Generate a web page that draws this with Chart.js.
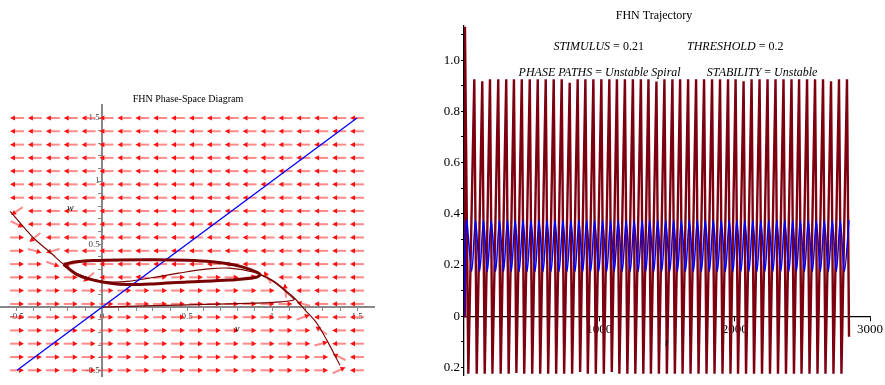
<!DOCTYPE html>
<html lang="en">
<head>
<meta charset="UTF-8">
<title>FHN Phase-Space and Trajectory</title>
<script src="https://cdn.jsdelivr.net/npm/chart.js"></script>
<style>
    body {
        margin: 0;
        background: #fff;
        width: 885px;
        height: 385px;
        overflow: hidden;
        position: relative;
    }
    #phase { position: absolute; left: 0; top: 0; }
    #traj { position: absolute; left: 440px; top: 0; }
</style>
</head>
<body>
<canvas id="phase" width="440" height="385"></canvas>
<canvas id="traj" width="445" height="385"></canvas>
<script>
    // ---------- phase-space data (v, w) ----------
    const nullV = [-0.54, -0.45, -0.4, -0.3, -0.226, -0.15, -0.05, 0.05, 0.15, 0.3, 0.45, 0.6, 0.75, 0.9, 1.0, 1.07, 1.13, 1.2, 1.26, 1.32, 1.4];
    const nullW = [0.76, 0.62, 0.545, 0.43, 0.34, 0.27, 0.22, 0.2, 0.205, 0.235, 0.27, 0.3, 0.31, 0.275, 0.215, 0.145, 0.075, -0.03, -0.12, -0.255, -0.46];

    const diagV = [-0.5, 1.5];
    const diagW = [-0.5, 1.5];

    const startV = [0, 0.3, 0.6, 0.9, 1.05, 1.13, 1.1, 1.05, 1.0, 0.93];
    const startW = [0, 0.012, 0.022, 0.032, 0.042, 0.06, 0.1, 0.16, 0.21, 0.26];

    const cycleV = [-0.226, -0.15, -0.05, 0.1, 0.3, 0.5, 0.65, 0.78, 0.87, 0.93, 0.9, 0.75, 0.5, 0.3, 0.15, 0.05, -0.05, -0.15, -0.226];
    const cycleW = [0.34, 0.36, 0.37, 0.375, 0.376, 0.372, 0.36, 0.335, 0.3, 0.26, 0.235, 0.215, 0.2, 0.185, 0.18, 0.19, 0.215, 0.26, 0.34];

    // direction field grid
    const fieldV = [-0.5, -0.395, -0.289, -0.184, -0.079, 0.026, 0.132, 0.237, 0.342, 0.447, 0.553, 0.658, 0.763, 0.868, 0.974, 1.079, 1.184, 1.289, 1.395, 1.5];
    const fieldW = [1.5, 1.395, 1.289, 1.184, 1.079, 0.974, 0.868, 0.763, 0.658, 0.553, 0.447, 0.342, 0.237, 0.132, 0.026, -0.079, -0.184, -0.289, -0.395, -0.5];
    const fieldDir = [
        'LLLLLLLLLLLLLLLLLLLL',
        'LLLLLLLLLLLLLLLLLLLL',
        'LLLLLLLLLLLLLLLLLLLL',
        'LLLLLLLLLLLLLLLLLLLL',
        'LLLLLLLLLLLLLLLLLLLL',
        'LLLLLLLLLLLLLLLLLLLL',
        'LLLLLLLLLLLLLLLLLLLL',
        'LLLLLLLLLLLLLLLLLLLL',
        'RLLLLLLLLLLLLLLLLLLL',
        'RLLLLLLLLLLLLLLLLLLL',
        'RRLLLLLLLLLLLLLLLLLL',
        'RRRLLLLLLLLLLLLLLLLL',
        'RRRRLLLLRRRRRRLLLLLL',
        'RRRRRRRRRRRRRRRLLLLL',
        'RRRRRRRRRRRRRRRRLLLL',
        'RRRRRRRRRRRRRRRRRLLL',
        'RRRRRRRRRRRRRRRRRLLL',
        'RRRRRRRRRRRRRRRRRRLL',
        'RRRRRRRRRRRRRRRRRRLL',
        'RRRRRRRRRRRRRRRRRRRL'
    ];
    // [column, row, angle in degrees on screen] for arrows that lean near the nullcline
    const fieldTilt = [
        [0, 7, 146], [0, 8, 25], [1, 9, 140], [1, 10, 15], [2, 10, 165], [2, 11, 20],
        [3, 11, 168], [4, 12, 140], [7, 12, 185], [8, 12, 355], [13, 12, 350], [14, 12, 240],
        [15, 13, 265], [16, 14, 195], [16, 15, 340], [17, 16, 215], [17, 17, 345],
        [18, 18, 205], [18, 19, 335]
    ];

    const phaseTicks = [-0.5, -0.4, -0.3, -0.2, -0.1, 0, 0.1, 0.2, 0.3, 0.4, 0.5, 0.6, 0.7, 0.8, 0.9, 1, 1.1, 1.2, 1.3, 1.4, 1.5];

    // ---------- trajectory data (t, v) and (t, w) ----------
    const spikeT = [7, 76, 135, 192, 253, 312, 369, 427, 486, 545, 604, 663, 722, 781, 840, 897, 956, 1015, 1074, 1130,
        1189, 1248, 1307, 1363, 1422, 1481, 1540, 1597, 1656, 1715, 1774, 1833, 1892, 1951, 2007, 2066, 2125, 2184, 2243, 2302,
        2361, 2420, 2476, 2535, 2594, 2653, 2712, 2771, 2830];
    const spikeV = [1.13, 0.925, 0.918, 0.925, 0.925, 0.925, 0.925, 0.925, 0.925, 0.925, 0.925, 0.925, 0.925, 0.912, 0.925, 0.925, 0.925, 0.925, 0.925, 0.925,
        0.925, 0.925, 0.925, 0.925, 0.917, 0.925, 0.925, 0.925, 0.925, 0.925, 0.925, 0.925, 0.925, 0.925, 0.925, 0.918, 0.925, 0.925, 0.925, 0.925,
        0.925, 0.925, 0.925, 0.925, 0.925, 0.925, 0.918, 0.925, 0.925];
    const dipT = [32, 94, 153, 210, 271, 330, 387, 445, 504, 563, 622, 681, 740, 799, 858, 915, 974, 1033, 1092, 1148,
        1207, 1266, 1325, 1381, 1440, 1499, 1558, 1615, 1674, 1733, 1792, 1851, 1910, 1969, 2025, 2084, 2143, 2202, 2261, 2320,
        2379, 2438, 2494, 2553, 2612, 2671, 2730, 2789];
    const dipV = [-0.225, -0.225, -0.225, -0.225, -0.225, -0.225, -0.222, -0.225, -0.225, -0.225, -0.225, -0.225, -0.225, -0.225, -0.218, -0.225, -0.225, -0.225, -0.218, -0.225,
        -0.225, -0.225, -0.225, -0.225, -0.225, -0.225, -0.225, -0.225, -0.225, -0.225, -0.225, -0.225, -0.225, -0.225, -0.225, -0.225, -0.225, -0.225, -0.225, -0.225,
        -0.225, -0.225, -0.225, -0.225, -0.225, -0.225, -0.225, -0.225];
    const vEndT = [0, 2845];
    const vEndV = [0, -0.08];

    const wPeakT = [18, 85, 144, 201, 262, 321, 378, 436, 495, 554, 613, 672, 731, 790, 849, 906, 965, 1024, 1083, 1139,
        1198, 1257, 1316, 1372, 1431, 1490, 1549, 1606, 1665, 1724, 1783, 1842, 1901, 1960, 2016, 2075, 2134, 2193, 2252, 2311,
        2370, 2429, 2485, 2544, 2603, 2662, 2721, 2780];
    const wPeakV = [0.375, 0.375, 0.375, 0.375, 0.375, 0.375, 0.375, 0.375, 0.375, 0.375, 0.375, 0.375, 0.375, 0.375, 0.375, 0.375, 0.375, 0.375, 0.375, 0.375,
        0.375, 0.375, 0.375, 0.375, 0.375, 0.375, 0.375, 0.375, 0.375, 0.375, 0.375, 0.375, 0.375, 0.375, 0.375, 0.375, 0.375, 0.375, 0.375, 0.375,
        0.375, 0.375, 0.375, 0.375, 0.375, 0.375, 0.375, 0.375];
    const wDipT = [57, 116, 173, 234, 293, 350, 408, 467, 526, 585, 644, 703, 762, 821, 878, 937, 996, 1055, 1111, 1170,
        1229, 1288, 1344, 1403, 1462, 1521, 1578, 1637, 1696, 1755, 1814, 1873, 1932, 1988, 2047, 2106, 2165, 2224, 2283, 2342,
        2401, 2457, 2516, 2575, 2634, 2693, 2752, 2811];
    const wDipV = [0.175, 0.175, 0.175, 0.175, 0.175, 0.175, 0.175, 0.175, 0.175, 0.175, 0.175, 0.175, 0.175, 0.175, 0.175, 0.175, 0.175, 0.175, 0.175, 0.175,
        0.175, 0.175, 0.175, 0.175, 0.175, 0.175, 0.175, 0.175, 0.175, 0.175, 0.175, 0.175, 0.175, 0.175, 0.175, 0.175, 0.175, 0.175, 0.175, 0.175,
        0.175, 0.175, 0.175, 0.175, 0.175, 0.175, 0.175, 0.175];
    const wEndT = [0, 2845];
    const wEndV = [0, 0.375];

    const trajTicksT = [500, 1000, 1500, 2000, 2500, 3000];
    const trajTicksY = [-0.2, -0.1, 0, 0.1, 0.2, 0.3, 0.4, 0.5, 0.6, 0.7, 0.8, 0.9, 1.0, 1.1];

    const paramNames = ['STIMULUS', 'THRESHOLD', 'PHASE PATHS', 'STABILITY'];
    const paramValues = ['0.21', '0.2', 'Unstable Spiral', 'Unstable'];

    // ---------- helpers ----------
    const SERIF = "'Liberation Serif', 'Times New Roman', serif";
    Chart.defaults.font.family = SERIF;
    Chart.defaults.color = '#000';

    function pairs(xs, ys) {
        return xs.map((x, i) => ({ x: x, y: ys[i] }));
    }
    function merged(...groups) {
        return [].concat(...groups).sort((a, b) => a.x - b.x);
    }
    function fmt(v, keepDecimal) {
        const r = Math.round(v * 10) / 10;
        if (r === 0) return '0';
        if (!keepDecimal && Number.isInteger(r)) return String(r);
        return r.toFixed(1);
    }

    // text labels drawn on the canvas (titles, axis names, parameter notes)
    function textPlugin(items) {
        return {
            id: 'texts',
            afterDraw(chart) {
                const ctx = chart.ctx;
                const sx = chart.scales.x, sy = chart.scales.y;
                items.forEach(it => {
                    const px = it.at ? sx.getPixelForValue(it.at[0]) : it.px;
                    const py = it.at ? sy.getPixelForValue(it.at[1]) : it.py;
                    const fonts = it.parts.map(p => (p[1] ? 'italic ' : '') + it.size + 'px ' + SERIF);
                    ctx.save();
                    ctx.fillStyle = it.color || '#000';
                    ctx.textBaseline = 'middle';
                    ctx.textAlign = 'left';
                    const widths = it.parts.map((p, i) => { ctx.font = fonts[i]; return ctx.measureText(p[0]).width; });
                    let x = px - widths.reduce((a, b) => a + b, 0) / 2;
                    it.parts.forEach((p, i) => {
                        ctx.font = fonts[i];
                        ctx.fillText(p[0], x, py);
                        x += widths[i];
                    });
                    ctx.restore();
                });
            }
        };
    }

    // direction field arrows, placed through the chart scales
    const arrowPlugin = {
        id: 'arrows',
        beforeDatasetsDraw(chart) {
            const ctx = chart.ctx;
            const sx = chart.scales.x, sy = chart.scales.y;
            const half = 7, headLen = 5, headW = 2.6;
            ctx.save();
            fieldW.forEach((w, r) => {
                fieldV.forEach((v, c) => {
                    let ang = fieldDir[r][c] === 'R' ? 0 : 180;
                    const tilt = fieldTilt.find(a => a[0] === c && a[1] === r);
                    if (tilt) ang = tilt[2];
                    const a = ang * Math.PI / 180;
                    const cx = sx.getPixelForValue(v), cy = sy.getPixelForValue(w);
                    const dx = Math.cos(a), dy = Math.sin(a);
                    const tx = cx + dx * half, ty = cy + dy * half;
                    ctx.strokeStyle = 'rgba(255, 60, 60, 0.6)';
                    ctx.lineWidth = 2;
                    ctx.beginPath();
                    ctx.moveTo(cx - dx * half, cy - dy * half);
                    ctx.lineTo(tx - dx * headLen, ty - dy * headLen);
                    ctx.stroke();
                    ctx.fillStyle = '#ff1010';
                    ctx.beginPath();
                    ctx.moveTo(tx, ty);
                    ctx.lineTo(tx - dx * headLen - dy * headW, ty - dy * headLen + dx * headW);
                    ctx.lineTo(tx - dx * headLen + dy * headW, ty - dy * headLen - dx * headW);
                    ctx.closePath();
                    ctx.fill();
                });
            });
            ctx.restore();
        }
    };

    // ---------- left: phase-space diagram ----------
    new Chart(document.getElementById('phase'), {
        type: 'scatter',
        data: {
            datasets: [
                { data: pairs(cycleV, cycleW), showLine: true, borderColor: '#780000', borderWidth: 3, pointRadius: 0, tension: 0.35 },
                { data: pairs(diagV, diagW), showLine: true, borderColor: '#0000ff', borderWidth: 1.3, pointRadius: 0 },
                { data: pairs(startV, startW), showLine: true, borderColor: '#7a0000', borderWidth: 1.2, pointRadius: 0, tension: 0.3 },
                { data: pairs(nullV, nullW), showLine: true, borderColor: '#7a0000', borderWidth: 1.1, pointRadius: 0, tension: 0.4 }
            ]
        },
        options: {
            responsive: false,
            animation: false,
            events: [],
            layout: { padding: { left: 0, right: 66, top: 105.4, bottom: 2.6 } },
            plugins: { legend: { display: false }, tooltip: { enabled: false } },
            scales: {
                x: {
                    type: 'linear', min: -0.6, max: 1.6, position: { y: 0 },
                    afterBuildTicks: s => { s.ticks = phaseTicks.map(v => ({ value: v })); },
                    ticks: {
                        autoSkip: false, maxRotation: 0, padding: 1, color: '#444', font: { size: 9 },
                        callback: v => (Math.abs(v * 2 - Math.round(v * 2)) < 1e-6 ? fmt(v, false) : '')
                    },
                    grid: { drawOnChartArea: false, tickLength: 3, color: '#888' },
                    border: { color: '#888', width: 2 }
                },
                y: {
                    type: 'linear', min: -0.55, max: 1.6, position: { x: 0 },
                    afterBuildTicks: s => { s.ticks = phaseTicks.map(v => ({ value: v })); },
                    ticks: {
                        autoSkip: false, color: '#444', font: { size: 9 },
                        callback: v => (v !== 0 && Math.abs(v * 2 - Math.round(v * 2)) < 1e-6 ? fmt(v, false) + ' ' : '')
                    },
                    grid: { drawOnChartArea: false, tickLength: 3, color: '#888' },
                    border: { color: '#888', width: 2 }
                }
            }
        },
        plugins: [arrowPlugin, textPlugin([
            { px: 188, py: 99, size: 10, parts: [['FHN Phase-Space Diagram', false]] },
            { at: [-0.186, 0.78], size: 10, parts: [['w', true]] },
            { at: [0.796, -0.173], size: 10, parts: [['v', true]] }
        ])]
    });

    // ---------- right: time trajectory ----------
    function paramParts(i) {
        const isNum = !isNaN(parseFloat(paramValues[i]));
        return [[paramNames[i], true], [' = ', false], [paramValues[i], !isNum]];
    }

    new Chart(document.getElementById('traj'), {
        type: 'scatter',
        data: {
            datasets: [
                { data: merged(pairs(wPeakT, wPeakV), pairs(wDipT, wDipV), pairs(wEndT, wEndV)), showLine: true, borderColor: '#0000ff', borderWidth: 1.5, pointRadius: 0, tension: 0.3 },
                { data: merged(pairs(spikeT, spikeV), pairs(dipT, dipV), pairs(vEndT, vEndV)), showLine: true, borderColor: '#7d0010', borderWidth: 2.4, pointRadius: 0 }
            ]
        },
        options: {
            responsive: false,
            animation: false,
            events: [],
            layout: { padding: { left: 4, right: 13.3, top: 25.6, bottom: 9.9 } },
            plugins: { legend: { display: false }, tooltip: { enabled: false } },
            scales: {
                x: {
                    type: 'linear', min: 0, max: 3000, position: { y: 0 },
                    afterBuildTicks: s => { s.ticks = trajTicksT.map(v => ({ value: v })); },
                    ticks: {
                        autoSkip: false, maxRotation: 0, padding: 2, font: { size: 13 },
                        callback: v => (v % 1000 === 0 ? String(v) : '')
                    },
                    grid: { drawOnChartArea: false, tickLength: 4, color: '#000' },
                    border: { color: '#000', width: 1.3 }
                },
                y: {
                    type: 'linear', min: -0.23, max: 1.135, position: 'left',
                    afterFit: s => { s.width = 20; },
                    afterBuildTicks: s => { s.ticks = trajTicksY.map(v => ({ value: v })); },
                    ticks: {
                        autoSkip: false, padding: 1, font: { size: 13 },
                        callback: v => (Math.round(v * 10) % 2 === 0 ? fmt(v, true) : '')
                    },
                    grid: { drawOnChartArea: false, tickLength: 3, color: '#000' },
                    border: { color: '#000', width: 1.3 }
                }
            }
        },
        plugins: [textPlugin([
            { px: 214, py: 16, size: 12, parts: [['FHN Trajectory', false]] },
            { at: [995, 1.053], size: 12, parts: paramParts(0) },
            { at: [2004, 1.053], size: 12, parts: paramParts(1) },
            { at: [1002, 0.949], size: 12, parts: paramParts(2) },
            { at: [2203, 0.949], size: 12, parts: paramParts(3) },
            { at: [1496, -0.105], size: 11, parts: [['t', true]] }
        ])]
    });
</script>
</body>
</html>
